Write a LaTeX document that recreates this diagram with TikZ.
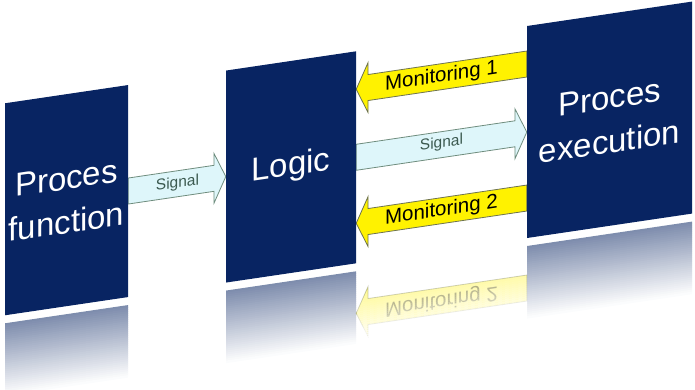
\documentclass[tikz,border=0pt]{standalone}
\usepackage{fontspec}
\setmainfont{Liberation Sans}
\usetikzlibrary{calc,backgrounds}
\definecolor{navy}{RGB}{8,36,98}
\definecolor{sigfill}{RGB}{222,246,250}
\definecolor{sigline}{RGB}{110,140,125}
\definecolor{sigtext}{RGB}{60,90,80}
\definecolor{monline}{RGB}{110,115,80}
\begin{document}
\begin{tikzpicture}[x=1pt,y=-1pt,
  blk/.style={fill=navy, text=white, minimum width=#1, minimum height=212pt,
    inner sep=0pt, align=center, font=\fontsize{33}{44}\selectfont, transform shape},
  barrow/.style={to path={
    ($(\tikztostart)+(0pt,13pt)$) --
    ($(\tikztotarget)!12pt!(\tikztostart)+(0pt,13pt)$) --
    ($(\tikztotarget)!12pt!(\tikztostart)+(0pt,25pt)$) --
    (\tikztotarget) --
    ($(\tikztotarget)!12pt!(\tikztostart)+(0pt,-25pt)$) --
    ($(\tikztotarget)!12pt!(\tikztostart)+(0pt,-13pt)$) --
    ($(\tikztostart)+(0pt,-13pt)$) -- cycle}},
  sigarr/.style={barrow, fill=sigfill, draw=sigline, line width=0.8pt},
  monarr/.style={barrow, fill=yellow, draw=monline, line width=0.8pt},
  lbls/.style={font=\fontsize{15.5}{18}\selectfont, text=sigtext, inner sep=0pt, transform shape},
  lblm/.style={font=\fontsize{20.5}{24}\selectfont, text=black, inner sep=0pt, transform shape}]
\useasboundingbox (0,0) rectangle (695,389);

\begin{scope}[yslant=0.148]
  \node[blk=123pt] (pf) at (66.5,210) {Proces\\function};
  \node[blk=130pt] (lg) at (291,210) {Logic};
  \node[blk=165pt] (pe) at (609.5,210) {Proces\\execution};
  \node[lbls] (l1) at (177.5,210) {Signal};
  \node[lbls] (l2) at (441.5,209) {Signal};
  \node[lblm] (l3) at (441.5,142) {Monitoring 1};
  \node[lblm] (l4) at (441.5,276) {Monitoring 2};
\end{scope}

\coordinate (m1s) at ([yshift=68pt]pe.west);
\coordinate (m1e) at ([yshift=68pt]lg.east);
\coordinate (m2s) at ([yshift=-66pt]pe.west);
\coordinate (m2e) at ([yshift=-66pt]lg.east);
\coordinate (r2s) at ([yshift=-156pt]pe.west);
\coordinate (r2e) at ([yshift=-156pt]lg.east);

\begin{pgfonlayer}{background}
  % reflections of the blocks
  \begin{scope}[yslant=0.148]
    \foreach \L/\R in {5/128,226/356,527/692}{
      \foreach \i in {0,...,35}{
        \pgfmathsetmacro\fr{52*(1-\i/36)}
        \fill[navy!\fr!white] (\L,324+2*\i) -- (\R,324+2*\i) -- (\R,326.6+2*\i) -- (\L,326.6+2*\i) -- cycle;
      }
    }
  \end{scope}
  % reflection of Monitoring 2
  \draw[monarr, opacity=0.4] (r2s) to (r2e);
  \begin{scope}[yslant=0.148]
    \node[lblm, opacity=0.4, yscale=-1] (l5) at (441.5,366) {Monitoring 2};
    \foreach \i in {0,...,25}{
      \pgfmathsetmacro\op{\i/25}
      \fill[white, opacity=\op] (357,344+2*\i) -- (527,344+2*\i) -- (527,346+2*\i) -- (357,346+2*\i) -- cycle;
    }
    \fill[white] (357,396) -- (527,396) -- (527,410) -- (357,410) -- cycle;
  \end{scope}
  % connectors
  \draw[sigarr] (pf.east) to (lg.west);
  \draw[sigarr] (lg.east) to (pe.west);
  \draw[monarr] (m1s) to (m1e);
  \draw[monarr] (m2s) to (m2e);
\end{pgfonlayer}
\end{tikzpicture}
\end{document}
